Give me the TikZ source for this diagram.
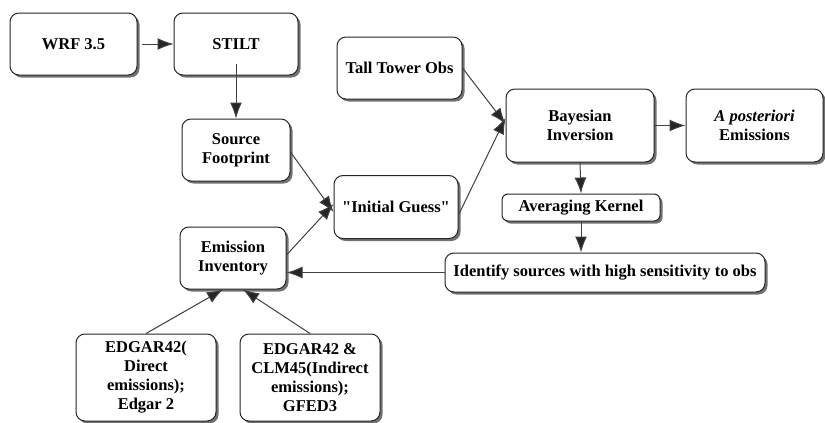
\documentclass[tikz,border=0pt]{standalone}
\usepackage{fontspec}
\setmainfont{Liberation Serif}
\usetikzlibrary{arrows.meta,shadows}
\begin{document}
\begin{tikzpicture}[x=1pt,y=-1pt,
  box/.style={draw=black!85, line width=1pt, rounded corners=9pt, fill=white,
    align=center, inner sep=2pt,
    font=\fontsize{16.5}{19}\selectfont\bfseries,
    drop shadow={shadow xshift=2.5pt, shadow yshift=-2.5pt, fill=black!65, opacity=0.85}},
  arr/.style={draw=black!75, line width=1pt, -{Latex[length=16pt,width=12pt,fill=black!85]}}]
\useasboundingbox (0,0) rectangle (825,423);
\node[box, minimum width=127pt, minimum height=62pt] (wrf) at (73.5,44) {WRF 3.5};
\node[box, minimum width=124pt, minimum height=62pt] (stilt) at (236,44) {STILT};
\node[box, minimum width=108pt, minimum height=62pt] (sf) at (236,150) {Source\\Footprint};
\node[box, minimum width=125pt, minimum height=62pt] (tto) at (399.5,68) {Tall Tower Obs};
\node[box, minimum width=148pt, minimum height=73pt] (bi) at (580,125.5) {Bayesian\\Inversion};
\node[box, minimum width=137pt, minimum height=73pt] (ap) at (754.5,125.5) {\textit{A posteriori}\\Emissions};
\node[box, minimum width=124pt, minimum height=63pt] (ig) at (396,207) {\textquotedbl Initial Guess\textquotedbl};
\node[box, minimum width=158pt, minimum height=27pt, rounded corners=6pt] (ak) at (581,207.5) {Averaging Kernel};
\node[box, minimum width=320pt, minimum height=39pt] (id) at (605,272.5) {Identify sources with high sensitivity to obs};
\node[box, minimum width=106pt, minimum height=62pt] (ei) at (233,258) {Emission\\Inventory};
\node[box, minimum width=140pt, minimum height=87pt] (e1) at (146,377.5) {EDGAR42(\\Direct\\emissions);\\Edgar 2};
\node[box, minimum width=140pt, minimum height=87pt] (e2) at (310,377.5) {EDGAR42 \&\\CLM45(Indirect\\emissions);\\GFED3};
\draw[arr] ([xshift=4pt]wrf.east) -- (stilt.west);
\draw[arr] ([yshift=12pt]stilt.south) -- (sf.north);
\draw[arr] ([yshift=-2pt]sf.east) -- ([yshift=-5pt]ig.west);
\draw[arr] ([yshift=3pt]ei.east) -- ([yshift=3pt]ig.west);
\draw[arr] (tto.east) -- ([yshift=1.5pt]bi.west);
\draw[arr] ([yshift=-8pt]ig.east) -- ([yshift=7.5pt]bi.west);
\draw[arr] (bi.east) -- (ap.west);
\draw[arr] (bi.south) -- (ak.north);
\draw[arr] (ak.south) -- (id.north -| ak.south);
\draw[arr] (id.west) -- (id.west -| ei.east);
\draw[arr] (e1.north) -- ([xshift=-10pt]ei.south);
\draw[arr] (e2.north) -- ([xshift=10pt]ei.south);
\end{tikzpicture}
\end{document}
